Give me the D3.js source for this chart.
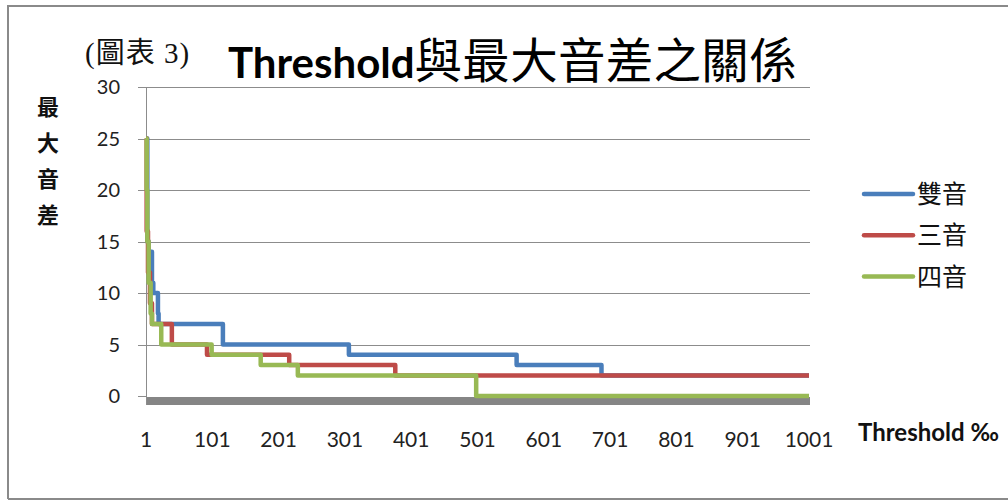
<!DOCTYPE html>
<html>
<head>
<meta charset="utf-8">
<script src="https://cdn.jsdelivr.net/npm/d3@7"></script>
<style>
  html, body { margin: 0; padding: 0; background: #fff; }
  svg { display: block; }
</style>
</head>
<body>
<svg id="chart" width="1008" height="501"></svg>
<script>
// Step breakpoints: [threshold ‰, max interval]; each value holds until the next breakpoint.
const seriesNames = ["雙音", "三音", "四音"];
const doubleTone = [[1, 25], [3, 15], [5, 14], [10, 11], [12, 10], [19, 8], [20, 7], [117, 5], [307, 4], [560, 3], [688, 2], [1001, 2]];
const tripleTone = [[1, 25], [2, 16], [4, 12], [7, 9], [10, 7], [40, 5], [93, 4], [217, 3], [377, 2], [1001, 2]];
const quadTone   = [[1, 25], [2, 20], [3, 15], [5, 11], [8, 8], [10, 7], [24, 5], [100, 4], [174, 3], [230, 2], [499, 0], [1001, 0]];
const xTicks = [1, 101, 201, 301, 401, 501, 601, 701, 801, 901, 1001];
const yTicks = [0, 5, 10, 15, 20, 25, 30];
const colors = ["#4A7EBB", "#BE4B48", "#98B954"];

const svg = d3.select("#chart");
const sans = "Lato, 'Noto Sans', sans-serif";
const cjk = "'Noto Sans CJK TC', 'Noto Sans CJK SC', sans-serif";

// Outer frame
svg.append("path")
  .attr("d", "M8,499 V6 H1010 M8,499 H1010")
  .attr("fill", "none").attr("stroke", "#8a8a8a").attr("stroke-width", 2);

const x = d3.scaleLinear().domain([1, 1001]).range([146, 809]);
const y = d3.scaleLinear().domain([0, 30]).range([396, 87]);

// Horizontal gridlines (with outward tick marks)
svg.append("g")
  .selectAll("line")
  .data(yTicks.filter(d => d > 0))
  .join("line")
  .attr("x1", 138).attr("x2", 810)
  .attr("y1", d => Math.round(y(d)) + 0.5).attr("y2", d => Math.round(y(d)) + 0.5)
  .attr("stroke", "#8c8c8c").attr("stroke-width", 1);

// Thick base of the category axis
svg.append("rect")
  .attr("x", 146).attr("y", 397).attr("width", 664).attr("height", 8)
  .attr("fill", "#858585");
svg.append("line")
  .attr("x1", 138).attr("x2", 146).attr("y1", 396.5).attr("y2", 396.5)
  .attr("stroke", "#8c8c8c");

// Value axis line
svg.append("line")
  .attr("x1", 146.5).attr("x2", 146.5).attr("y1", 87).attr("y2", 405)
  .attr("stroke", "#8c8c8c").attr("stroke-width", 1);

// Y tick labels
svg.append("g")
  .selectAll("text")
  .data(yTicks)
  .join("text")
  .attr("x", 120).attr("y", d => y(d))
  .attr("dy", "0.35em")
  .attr("text-anchor", "end")
  .attr("font-family", sans).attr("font-size", 20)
  .attr("fill", "#222")
  .text(d => d);

// X tick labels
svg.append("g")
  .selectAll("text")
  .data(xTicks)
  .join("text")
  .attr("x", d => x(d)).attr("y", 440)
  .attr("dy", "0.35em")
  .attr("text-anchor", "middle")
  .attr("font-family", sans).attr("font-size", 21)
  .attr("fill", "#222")
  .text(d => d);

// Series lines
const line = d3.line()
  .x(d => x(d[0]))
  .y(d => y(d[1]))
  .curve(d3.curveStepAfter);

[doubleTone, tripleTone, quadTone].forEach((data, i) => {
  svg.append("path")
    .datum(data)
    .attr("d", line)
    .attr("fill", "none")
    .attr("stroke", colors[i])
    .attr("stroke-width", 4.5)
    .attr("stroke-linejoin", "round")
    .attr("stroke-linecap", "butt");
});

// Legend
const legend = svg.append("g");
seriesNames.forEach((name, i) => {
  const ly = 194 + i * 41.3;
  legend.append("line")
    .attr("x1", 864).attr("x2", 913).attr("y1", ly).attr("y2", ly)
    .attr("stroke", colors[i]).attr("stroke-width", 4.5).attr("stroke-linecap", "round");
  legend.append("text")
    .attr("x", 917).attr("y", ly).attr("dy", "0.36em")
    .attr("font-family", cjk).attr("font-size", 25)
    .attr("fill", "#111")
    .text(name);
});

// Title
const title = svg.append("text")
  .attr("x", 228).attr("y", 78)
  .attr("fill", "#000");
title.append("tspan")
  .attr("font-family", sans).attr("font-weight", "bold").attr("font-size", 42)
  .text("Threshold");
title.append("tspan")
  .attr("font-family", cjk).attr("font-size", 47.5)
  .attr("letter-spacing", 0.3)
  .text("與最大音差之關係");

// Chart number label
svg.append("text")
  .attr("x", 85).attr("y", 63)
  .attr("font-family", "'Liberation Serif', " + cjk)
  .attr("font-size", 29)
  .attr("letter-spacing", 1)
  .attr("fill", "#111")
  .text("(圖表 3)");

// Y axis title, stacked vertically
svg.append("g")
  .selectAll("text")
  .data(["最", "大", "音", "差"])
  .join("text")
  .attr("x", 48).attr("y", (d, i) => 107 + i * 36)
  .attr("dy", "0.36em")
  .attr("text-anchor", "middle")
  .attr("font-family", cjk).attr("font-weight", "bold").attr("font-size", 22)
  .attr("fill", "#111")
  .text(d => d);

// X axis title
svg.append("text")
  .attr("x", 858).attr("y", 433)
  .attr("dy", "0.35em")
  .attr("font-family", sans).attr("font-weight", "bold").attr("font-size", 24)
  .attr("fill", "#111")
  .text("Threshold ‰");
</script>
</body>
</html>
